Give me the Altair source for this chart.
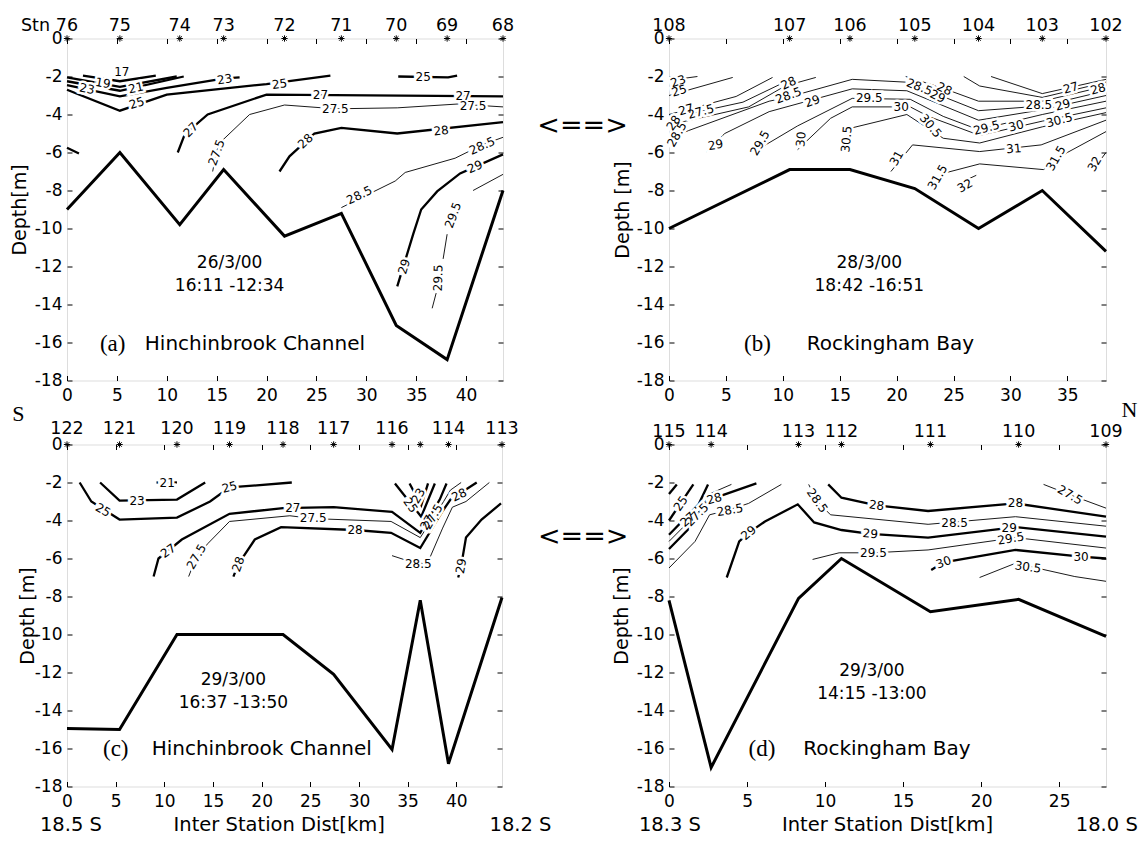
import altair as alt
import pandas as pd

FONT = "DejaVu Sans"
SERIF = "Liberation Serif"
H = 342

# ---------------- panel (a) : Hinchinbrook Channel 26/3/00 ----------------
A_STN = ["76", "75", "74", "73", "72", "71", "70", "69", "68"]
A_STN_KM = [0, 5.3, 11.3, 15.7, 21.8, 27.5, 33.0, 38.1, 43.7]
A_BOTTOM = [-9.0, -6.0, -9.8, -6.9, -10.4, -9.2, -15.1, -16.9, -8.0]
A_THICK = [
    ("a17", [(1.6, -1.95), (5.3, -2.25), (8.9, -1.95)]),
    ("a19", [(0, -2.05), (5.3, -2.55), (11.0, -2.0)]),
    ("a21", [(0, -2.25), (5.3, -2.75), (11.7, -2.0)]),
    ("a23", [(0, -2.45), (5.3, -3.05), (10.0, -2.6), (15.8, -2.1), (17.3, -2.05)]),
    ("a25", [(0, -2.7), (5.3, -3.8), (10.0, -2.95), (20.0, -2.4), (26.4, -1.95)]),
    ("a25r", [(33.2, -2.0), (38.2, -2.05), (39.1, -1.95)]),
    ("a27", [(11.1, -6.0), (11.8, -5.05), (14.1, -4.0), (20.0, -2.95), (43.7, -3.05)]),
    ("a27w", [(0, -5.75), (1.2, -6.05)]),
    ("a28", [(21.3, -7.0), (22.3, -6.2), (24.8, -5.0), (27.5, -4.7), (33.1, -5.0), (43.7, -4.4)]),
    ("a29", [(33.1, -13.05), (34.7, -10.3), (35.5, -9.0), (37.1, -8.05), (39.4, -7.1), (43.7, -6.1)]),
]
A_THIN = [
    ("a275", [(14.6, -7.0), (15.0, -5.9), (15.5, -5.4), (18.3, -4.0), (21.8, -3.5), (26.9, -3.7),
              (33.1, -3.65), (39.1, -3.45), (43.7, -3.6)]),
    ("a285", [(27.5, -8.9), (32.9, -7.5), (33.9, -7.05), (38.9, -6.3), (41.6, -5.6), (43.7, -5.2)]),
    ("a295a", [(40.7, -8.0), (43.7, -7.15)]),
    ("a295b", [(38.1, -10.3), (37.7, -11.6)]),
    ("a295c", [(37.0, -13.4), (36.6, -14.2)]),
]
A_LABELS = [
    ("17", 5.5, -1.75, 0), ("19", 3.6, -2.35, 10), ("21", 6.9, -2.6, 348),
    ("23", 2.0, -2.65, 11), ("23", 15.8, -2.15, 351), ("25", 7.0, -3.4, 342),
    ("25", 21.3, -2.4, 353), ("25", 35.7, -2.0, 0), ("27", 12.4, -4.8, 315),
    ("27", 25.4, -2.95, 0), ("27", 39.7, -3.0, 0), ("27.5", 15.0, -6.0, 290),
    ("27.5", 26.9, -3.7, 0), ("27.5", 40.7, -3.55, 0), ("28", 23.9, -5.4, 317),
    ("28", 37.5, -4.85, 354), ("28.5", 29.3, -8.25, 334), ("28.5", 41.6, -5.65, 336),
    ("29", 33.8, -12.0, 287), ("29", 40.9, -6.75, 337), ("29.5", 38.7, -9.3, 290),
    ("29.5", 37.2, -12.6, 272),
]

# ---------------- panel (b) : Rockingham Bay 28/3/00 ----------------
B_STN = ["108", "107", "106", "105", "104", "103", "102"]
B_STN_KM = [0, 10.6, 15.9, 21.6, 27.2, 32.8, 38.4]
B_BOTTOM = [-10.0, -6.9, -6.9, -7.9, -10.0, -8.0, -11.2]
B_THIN = [
    ("b23", [(0, -2.2), (2.5, -2.0)]),
    ("b25", [(0, -3.0), (5.6, -2.05)]),
    ("b27l", [(0, -4.0), (5.9, -3.05), (9.1, -2.05)]),
    ("b275l", [(0, -4.2), (6.5, -3.35), (9.8, -2.4), (11.0, -2.05)]),
    ("b28l", [(0, -4.55), (7.0, -3.6), (10.2, -2.5), (12.9, -2.05)]),
    ("b285", [(0, -5.3), (1.7, -4.85), (8.8, -3.3), (10.4, -3.1), (16.1, -2.15), (20.9, -2.3),
              (27.2, -3.8), (32.8, -3.55), (38.4, -2.75)]),
    ("b29", [(3.3, -5.95), (4.9, -5.0), (8.8, -3.85), (16.1, -2.65), (20.9, -2.75), (27.2, -4.3),
             (32.8, -3.75), (38.4, -3.0)]),
    ("b295", [(7.5, -5.95), (11.3, -4.6), (16.1, -3.15), (21.2, -3.2), (24.1, -4.1), (27.2, -4.8),
              (32.8, -4.0), (38.4, -3.3)]),
    ("b30", [(11.3, -5.85), (14.2, -4.2), (16.1, -3.6), (21.2, -3.6), (22.8, -4.1), (27.3, -5.1),
             (32.8, -4.35), (38.4, -3.65)]),
    ("b305", [(15.4, -5.95), (16.1, -4.7), (20.9, -4.0), (24.1, -5.25), (27.3, -5.5), (32.8, -4.65),
              (38.4, -3.9)]),
    ("b31", [(19.5, -7.0), (21.4, -5.6), (27.3, -5.95), (32.7, -5.6), (38.4, -4.3)]),
    ("b315", [(24.1, -7.1), (27.3, -6.6), (32.9, -6.9), (35.0, -6.0), (38.4, -4.9)]),
    ("b32a", [(25.2, -7.7), (27.0, -7.2)]),
    ("b32b", [(37.9, -6.4), (38.4, -6.0)]),
    ("b27r", [(28.3, -2.0), (32.8, -2.9), (38.4, -2.15)]),
    ("b275r", [(25.9, -2.0), (27.3, -2.5), (32.8, -3.1), (38.4, -2.3)]),
    ("b28r", [(20.8, -2.0), (24.0, -2.6), (27.2, -3.3), (32.8, -3.3), (38.4, -2.5)]),
]
B_THICK = []
B_LABELS = [
    ("23", 0.8, -2.25, 340), ("25", 0.9, -2.75, 344), ("27", 1.5, -3.75, 345),
    ("27.5", 2.8, -3.85, 345), ("28", 0.4, -4.45, 305), ("28", 10.5, -2.35, 335),
    ("28.5", 0.7, -5.05, 300), ("28.5", 10.5, -3.0, 340), ("28.5", 22.0, -2.55, 22),
    ("28.5", 32.5, -3.5, 0), ("29", 4.1, -5.6, 350), ("29", 12.6, -3.3, 340),
    ("29", 23.6, -3.05, 25), ("29", 34.6, -3.5, 345), ("29.5", 8.0, -5.5, 300),
    ("29.5", 17.6, -3.15, 0), ("29.5", 27.9, -4.7, 345), ("30", 11.6, -5.3, 275),
    ("30", 20.4, -3.6, 0), ("30", 30.5, -4.6, 345), ("30.5", 15.6, -5.3, 275),
    ("30.5", 23.0, -4.6, 50), ("30.5", 34.3, -4.3, 345), ("31", 20.0, -6.3, 300),
    ("31", 30.3, -5.8, 355), ("31.5", 23.6, -7.3, 300), ("31.5", 34.0, -6.3, 300),
    ("32", 26.0, -7.75, 330), ("32", 37.4, -6.6, 300), ("27", 35.3, -2.6, 345),
    ("28", 37.7, -2.65, 345), ("28", 24.2, -2.65, 25),
]

# ---------------- panel (c) : Hinchinbrook Channel 29/3/00 ----------------
C_STN = ["122", "121", "120", "119", "118", "117", "116", "", "114", "113"]
C_STN_KM = [0, 5.4, 11.3, 16.7, 22.2, 27.4, 33.4, 36.3, 39.2, 44.7]
C_BOTTOM = [-14.95, -15.0, -10.0, -10.0, -10.0, -12.1, -16.05, -8.2, -16.8, -8.05]
C_THICK = [
    ("c21", [(9.2, -2.0), (11.3, -2.0)]),
    ("c23", [(3.4, -2.0), (5.4, -2.95), (11.3, -2.9), (14.2, -2.0)]),
    ("c25", [(1.3, -2.0), (2.5, -3.0), (5.4, -3.95), (11.3, -3.85), (14.7, -3.0), (16.7, -2.25),
             (19.5, -2.15), (23.1, -2.0)]),
    ("c27", [(8.9, -6.95), (9.4, -6.0), (11.8, -5.0), (16.7, -3.65), (22.2, -3.35), (27.4, -3.3),
             (33.4, -3.55), (36.3, -4.65), (38.3, -2.9), (39.0, -2.05)]),
    ("c28", [(17.1, -6.95), (17.6, -6.3), (19.3, -5.0), (22.0, -4.35), (29.6, -4.5), (33.3, -4.65),
             (36.3, -5.45), (38.6, -3.5), (39.4, -2.9), (42.1, -2.0)]),
    ("c23r", [(35.2, -2.05), (36.4, -3.2), (37.1, -2.05)]),
    ("c25r", [(33.7, -2.05), (36.4, -3.8), (37.8, -2.05)]),
    ("c29", [(40.2, -7.0), (40.5, -6.4), (41.0, -4.9), (42.6, -3.95), (44.6, -3.1)]),
]
C_THIN = [
    ("c275", [(12.5, -6.95), (13.3, -5.9), (14.5, -5.2), (16.7, -4.05), (22.9, -3.75), (25.3, -3.9),
              (33.3, -4.05), (36.3, -4.9), (38.7, -3.0), (39.4, -2.4), (40.5, -2.0)]),
    ("c285", [(33.4, -5.85), (35.2, -6.15), (37.0, -6.3), (38.6, -4.4), (39.6, -3.3), (41.0, -3.0),
              (43.4, -2.0)]),
]
C_LABELS = [
    ("21", 10.3, -2.0, 0), ("23", 7.2, -2.95, 0), ("25", 3.7, -3.45, 30), ("25", 16.7, -2.25, 345),
    ("27", 10.4, -5.6, 325), ("27", 23.2, -3.35, 0), ("27", 37.0, -4.1, 300),
    ("27.5", 13.3, -5.9, 300), ("27.5", 25.3, -3.85, 0), ("27.5", 37.6, -3.8, 300),
    ("28", 17.6, -6.3, 290), ("28", 29.6, -4.5, 0), ("28", 40.3, -2.65, 335),
    ("23", 36.1, -2.7, 300), ("25", 35.3, -3.2, 55), ("28.5", 36.1, -6.3, 0), ("29", 40.5, -6.4, 280),
]

# ---------------- panel (d) : Rockingham Bay 29/3/00 ----------------
D_STN = ["115", "114", "113", "112", "111", "110", "109"]
D_STN_KM = [0, 2.7, 8.3, 11.05, 16.75, 22.4, 28.0]
D_BOTTOM = [-8.2, -17.0, -8.1, -6.0, -8.8, -8.15, -10.1]
D_THICK = [
    ("dtop", [(0, -2.6), (0.5, -2.1)]),
    ("d25", [(0, -4.0), (1.56, -2.1)]),
    ("d27", [(0, -4.75), (1.9, -3.15), (2.5, -2.1)]),
    ("d28l", [(0, -5.5), (1.55, -4.2), (2.4, -3.0), (2.8, -2.85), (5.6, -2.05)]),
    ("d28r", [(10.2, -2.1), (11.05, -2.8), (13.3, -3.2), (16.6, -3.5), (22.2, -3.1), (28.0, -3.8)]),
    ("d29", [(3.7, -7.0), (4.5, -5.1), (5.1, -4.65), (6.15, -4.05), (8.25, -3.15), (9.3, -4.1),
             (11.05, -4.5), (12.9, -4.7), (16.6, -4.9), (22.2, -4.35), (28.0, -4.85)]),
    ("d30", [(16.8, -6.6), (17.6, -6.2), (22.2, -5.55), (26.4, -5.9), (28.0, -6.0)]),
]
D_THIN = [
    ("d275l", [(0, -5.1), (2.0, -3.45), (2.6, -2.6), (4.0, -2.1)]),
    ("d285l", [(0, -6.5), (1.67, -5.1), (2.6, -3.7), (3.8, -3.45), (5.1, -3.1), (7.2, -2.1)]),
    ("d285r", [(8.95, -2.1), (9.5, -3.0), (10.35, -3.7), (16.6, -4.2), (22.2, -3.8), (28.0, -4.3)]),
    ("d295", [(9.2, -6.05), (10.9, -5.7), (13.1, -5.7), (16.6, -5.55), (22.2, -4.9), (28.0, -5.45)]),
    ("d305", [(19.9, -7.0), (22.2, -6.25), (26.0, -6.95), (28.0, -7.2)]),
    ("d275r", [(24.0, -2.1), (25.7, -2.65), (28.0, -3.35)]),
]
D_LABELS = [
    ("25", 0.75, -3.1, 304), ("27", 1.2, -3.95, 320), ("27.5", 1.8, -3.7, 315),
    ("28", 2.9, -2.85, 345), ("28.5", 3.9, -3.45, 350), ("29", 5.1, -4.65, 320),
    ("28.5", 9.5, -2.95, 55), ("28", 13.3, -3.2, 8), ("28", 22.2, -3.1, 0),
    ("28.5", 18.3, -4.15, 0), ("29", 12.9, -4.7, 5), ("29", 21.8, -4.4, 0),
    ("29.5", 13.1, -5.7, 0), ("29.5", 21.9, -4.95, 350), ("30", 17.6, -6.2, 340),
    ("30", 26.4, -5.9, 0), ("30.5", 23.0, -6.45, 8), ("27.5", 25.7, -2.65, 30),
]

NEG = "datum.value < 0 ? '-' + (-datum.value) : '' + datum.value"


def lines_df(lines):
    rows = []
    for name, pts in lines:
        for i, (x, y) in enumerate(pts):
            rows.append({"seg": name, "i": i, "km": x, "depth": y})
    return pd.DataFrame(rows, columns=["seg", "i", "km", "depth"])


def text_layer(rows, xs, ys, **mark):
    df = pd.DataFrame(rows, columns=["t", "km", "depth"])
    return alt.Chart(df).mark_text(color="black", **mark).encode(
        x=alt.X("km:Q", scale=xs, axis=None),
        y=alt.Y("depth:Q", scale=ys, axis=None),
        text="t:N",
    )


def make_panel(W, xmax, stn, stn_km, bottom, thick, thin, labels, notes, ytitle, title_x, stn_dy):
    xs = alt.Scale(domain=[0, xmax], nice=False, zero=False)
    ys = alt.Scale(domain=[-18, 0], nice=False, zero=False)
    xt = [v for v in range(0, 50, 5) if v <= xmax]
    yt = list(range(0, -19, -2))
    tick_common = dict(labels=False, domain=False, ticks=True, tickSize=5, tickColor="black",
                       tickWidth=1, grid=False, title=None)
    ax_xlab = alt.Axis(orient="bottom", values=xt, ticks=False, domain=False, labelFontSize=17,
                       labelFont=FONT, labelColor="black", labelPadding=7, labelFlush=False,
                       labelOverlap=False, grid=False, title=None)
    ax_ylab = alt.Axis(orient="left", values=yt, ticks=False, domain=False, labelFontSize=17,
                       labelFont=FONT, labelColor="black", labelPadding=5, labelExpr=NEG,
                       labelOverlap=False, grid=False, title=ytitle, titleFont=FONT,
                       titleFontSize=19, titleFontWeight="normal", titleColor="black",
                       titleX=title_x, titleY=H / 2, titleAngle=270, titleAlign="center",
                       titleBaseline="middle")
    ax_xtop = alt.Axis(orient="bottom", offset=-H, values=xt, **tick_common)
    ax_xbot = alt.Axis(orient="top", offset=-H, values=xt, **tick_common)
    ax_yright = alt.Axis(orient="left", offset=-W, values=yt, **tick_common)
    ax_yleft = alt.Axis(orient="right", offset=-W, values=yt, **tick_common)

    bathy = alt.Chart(pd.DataFrame({"km": stn_km, "depth": bottom, "i": range(len(stn_km))})).mark_line(
        color="black", strokeWidth=3, strokeJoin="miter").encode(
        x=alt.X("km:Q", scale=xs, axis=ax_xlab),
        y=alt.Y("depth:Q", scale=ys, axis=ax_ylab),
        order="i:Q",
    )
    layers = [bathy]
    for lines, width in ((thick, 2.3), (thin, 0.9)):
        if lines:
            layers.append(alt.Chart(lines_df(lines)).mark_line(color="black", strokeWidth=width).encode(
                x=alt.X("km:Q", scale=xs, axis=None),
                y=alt.Y("depth:Q", scale=ys, axis=None),
                detail="seg:N",
                order="i:Q",
            ))
    ldf = pd.DataFrame(labels, columns=["t", "km", "depth", "ang"])
    lenc = dict(x=alt.X("km:Q", scale=xs, axis=None), y=alt.Y("depth:Q", scale=ys, axis=None),
                text="t:N", angle=alt.Angle("ang:Q", scale=None))
    layers.append(alt.Chart(ldf).mark_text(font=FONT, fontSize=12, fill="white", stroke="white",
                                           strokeWidth=5, baseline="middle").encode(**lenc))
    layers.append(alt.Chart(ldf).mark_text(font=FONT, fontSize=12, color="black",
                                           baseline="middle").encode(**lenc))
    sdf = pd.DataFrame({"t": stn, "km": stn_km, "depth": [0] * len(stn)})
    layers.append(alt.Chart(sdf).mark_point(
        shape="M-1,0L1,0M0,-1L0,1M-0.7,-0.7L0.7,0.7M-0.7,0.7L0.7,-0.7",
        size=40, filled=False, color="black", strokeWidth=1, opacity=1).encode(
        x=alt.X("km:Q", scale=xs, axis=ax_xtop),
        y=alt.Y("depth:Q", scale=ys, axis=ax_yright),
    ))
    layers.append(alt.Chart(sdf).mark_text(font=FONT, fontSize=17.5, color="black",
                                           baseline="alphabetic", dy=stn_dy).encode(
        x=alt.X("km:Q", scale=xs, axis=ax_xbot),
        y=alt.Y("depth:Q", scale=ys, axis=ax_yleft),
        text="t:N",
    ))
    for rows, mk in notes:
        layers.append(text_layer(rows, xs, ys, **mk))
    return alt.layer(*layers).resolve_axis(x="independent", y="independent").properties(
        width=W, height=H)


SANS_NOTE = dict(font=FONT, fontSize=17, align="center", baseline="middle")
PLACE = dict(font=FONT, fontSize=20, align="left", baseline="middle")
LETTER = dict(font=SERIF, fontSize=23, align="left", baseline="middle")
BOTTOM = dict(font=FONT, fontSize=19.5, align="center", baseline="alphabetic", dy=44)
ARROW = dict(font=FONT, fontSize=27, align="center", baseline="middle")

pa = make_panel(436, 43.7, A_STN, A_STN_KM, A_BOTTOM, A_THICK, A_THIN, A_LABELS, [
    ([("26/3/00", 16.3, -11.8), ("16:11 -12:34", 16.3, -13.05)], SANS_NOTE),
    ([("(a)", 3.3, -16.1)], LETTER),
    ([("Hinchinbrook Channel", 7.8, -16.1)], PLACE),
    ([("Stn", -1.7, 0)], dict(font=FONT, fontSize=17.5, align="right", baseline="alphabetic", dy=-8)),
], "Depth[m]", -48, -8)

pb = make_panel(437, 38.4, B_STN, B_STN_KM, B_BOTTOM, B_THICK, B_THIN, B_LABELS, [
    ([("28/3/00", 17.6, -11.8), ("18:42 -16:51", 17.6, -13.05)], SANS_NOTE),
    ([("(b)", 6.6, -16.1)], LETTER),
    ([("Rockingham Bay", 12.1, -16.1)], PLACE),
    ([("<==>", -7.6, -4.6)], ARROW),
], "Depth [m]", -47, -8)

pc = make_panel(435, 44.7, C_STN, C_STN_KM, C_BOTTOM, C_THICK, C_THIN, C_LABELS, [
    ([("29/3/00", 17.1, -12.4), ("16:37 -13:50", 17.1, -13.6)], SANS_NOTE),
    ([("(c)", 3.7, -16.05)], LETTER),
    ([("Hinchinbrook Channel", 8.7, -16.05)], PLACE),
    ([("18.5 S", 0.4, -18), ("Inter Station Dist[km]", 21.8, -18), ("18.2 S", 46.6, -18)], BOTTOM),
    ([("S", -5.0, 1.6)], dict(font=SERIF, fontSize=22, align="center", baseline="middle")),
], "Depth [m]", -40, -11)

pd_ = make_panel(437, 28.0, D_STN, D_STN_KM, D_BOTTOM, D_THICK, D_THIN, D_LABELS, [
    ([("29/3/00", 13.0, -11.9), ("14:15 -13:00", 13.0, -13.15)], SANS_NOTE),
    ([("(d)", 5.1, -16.0)], LETTER),
    ([("Rockingham Bay", 8.6, -16.0)], PLACE),
    ([("18.3 S", 0.06, -18), ("Inter Station Dist[km]", 14.0, -18), ("18.0 S", 28.05, -18)], BOTTOM),
    ([("N", 29.5, 1.84)], dict(font=SERIF, fontSize=22, align="center", baseline="middle")),
    ([("<==>", -5.5, -4.85)], ARROW),
], "Depth [m]", -48, -8)

chart = alt.concat(pa, pb, pc, pd_, columns=2, spacing={"row": 64, "column": 166},
                   bounds="flush").properties(
    padding={"left": 1, "top": 7.5, "right": 0, "bottom": 0},
    background="white",
).configure_view(stroke="black", strokeWidth=1).configure(font=FONT)

chart.save("out.html", embed_options={"renderer": "svg", "actions": False})
